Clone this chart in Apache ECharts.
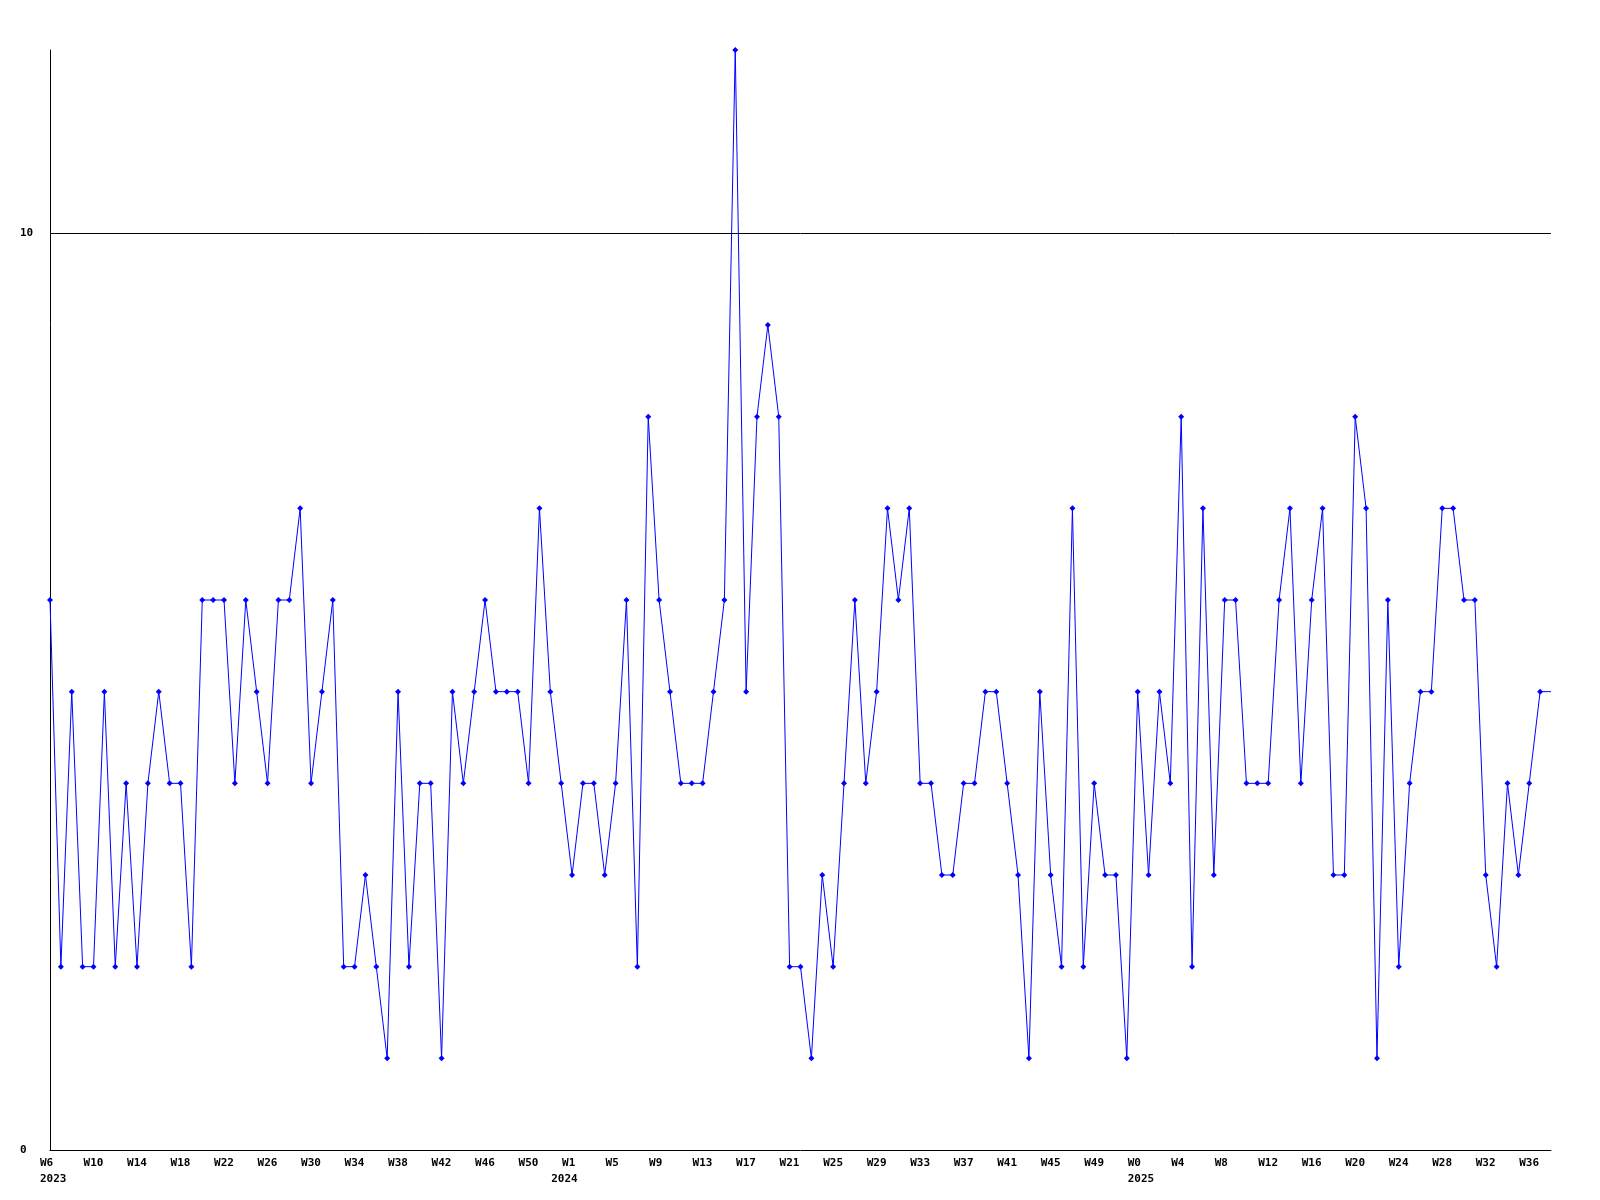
<!DOCTYPE html>
<html>
<head>
<meta charset="utf-8">
<script src="https://cdn.jsdelivr.net/npm/echarts@6/dist/echarts.min.js"></script>
<style>
html,body{margin:0;padding:0;background:#fff;}
#chart{width:1600px;height:1200px;}
</style>
</head>
<body>
<div id="chart"></div>
<script>
// Week numbers per year (x categories)
const weeks2023 = [6,7,8,9,10,11,12,13,14,15,16,17,18,19,20,21,22,23,24,25,26,27,28,29,30,31,32,33,34,35,36,37,38,39,40,41,42,43,44,45,46,47,48,49,50,51,52];
const weeks2024 = [0,1,2,3,4,5,6,7,8,9,10,11,12,13,14,15,16,17,18,19,20,21,22,23,24,25,26,27,28,29,30,31,32,33,34,35,36,37,38,39,40,41,42,43,44,45,46,47,48,49,50,51,52];
const weeks2025 = [0,1,2,3,4,5,6,7,8,9,10,11,12,13,14,15,16,17,18,19,20,21,22,23,24,25,26,27,28,29,30,31,32,33,34,35,36,37,38];

// Weekly counts
const values2023 = [6,2,5,2,2,5,2,4,2,4,5,4,4,2,6,6,6,4,6,5,4,6,6,7,4,5,6,2,2,3,2,1,5,2,4,4,1,5,4,5,6,5,5,5,4,7,5];
const values2024 = [4,3,4,4,3,4,6,2,8,6,5,4,4,4,5,6,12,5,8,9,8,2,2,1,3,2,4,6,4,5,7,6,7,4,4,3,3,4,4,5,5,4,3,1,5,3,2,7,2,4,3,3,1];
const values2025 = [5,3,5,4,8,2,7,3,6,6,4,4,4,6,7,4,6,7,3,3,8,7,1,6,2,4,5,5,7,7,6,6,3,2,4,3,4,5,5];

// Y axis
const yMin = 0, yMax = 12, yInterval = 10;
const thresholdValue = 10;

const categories = [];
const yearStart = {};
[[2023, weeks2023], [2024, weeks2024], [2025, weeks2025]].forEach(([yr, ws]) => {
  ws.forEach((w, i) => {
    const name = 'W' + w + ' ' + yr;
    categories.push(name);
    if (i === 0) yearStart[name] = yr;
  });
});
const allValues = values2023.concat(values2024, values2025);
const seriesData = allValues.map((v, i) =>
  i === allValues.length - 1 ? { value: v, symbol: 'none' } : v
);

const chart = echarts.init(document.getElementById('chart'), null, { renderer: 'canvas' });
const font = '"DejaVu Sans Mono", "Liberation Mono", monospace';
chart.setOption({
  animation: false,
  backgroundColor: '#ffffff',
  grid: { left: 50, right: 49, top: 50, bottom: 50, containLabel: false },
  xAxis: {
    type: 'category',
    data: categories,
    boundaryGap: false,
    axisLine: { show: true, lineStyle: { color: '#000', width: 1 } },
    axisTick: { show: false },
    splitLine: { show: false },
    axisLabel: {
      interval: function (index, val) { return index % 4 === 0 || !!yearStart[val]; },
      align: 'left',
      padding: [0, 0, 0, -10],
      margin: 5,
      lineHeight: 16,
      fontFamily: font,
      fontWeight: 'bold',
      fontSize: 11,
      color: '#000',
      formatter: function (val, index) {
        const wk = index % 4 === 0 ? val.split(' ')[0] : '';
        return yearStart[val] ? wk + '\n' + yearStart[val] : wk;
      }
    }
  },
  yAxis: {
    type: 'value',
    min: yMin,
    max: yMax,
    interval: yInterval,
    axisLine: { show: true, lineStyle: { color: '#000', width: 1 } },
    axisTick: { show: false },
    splitLine: { show: false },
    axisLabel: {
      align: 'left',
      margin: 30,
      fontFamily: font,
      fontWeight: 'bold',
      fontSize: 11,
      color: '#000',
      showMaxLabel: false,
      formatter: function (v) { return v === yMax ? '' : String(v); }
    }
  },
  series: [{
    type: 'line',
    data: seriesData,
    symbol: 'diamond',
    symbolSize: 6,
    showAllSymbol: true,
    itemStyle: { color: '#0000ff' },
    lineStyle: { color: '#0000ff', width: 1 },
    markLine: {
      silent: true,
      symbol: ['none', 'none'],
      label: { show: false },
      lineStyle: { color: '#000', width: 1, type: 'solid' },
      data: [{ yAxis: thresholdValue }]
    }
  }]
});
</script>
</body>
</html>
